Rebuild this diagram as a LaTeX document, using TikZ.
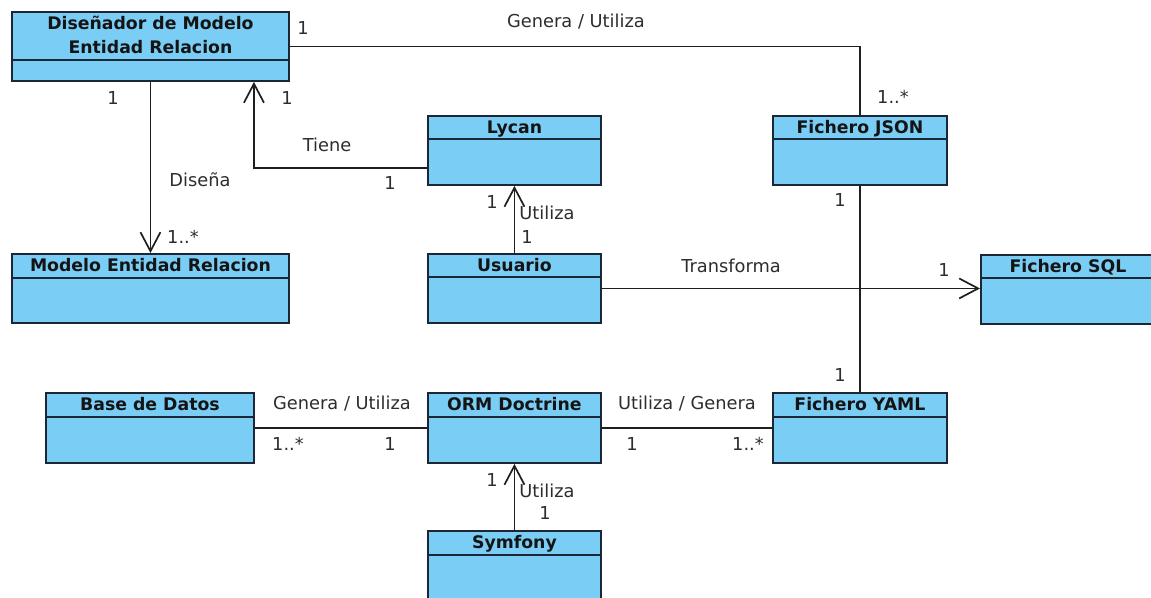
\documentclass[tikz,border=0pt]{standalone}
\usepackage{fontspec}
\setmainfont{DejaVu Sans}
\usetikzlibrary{arrows.meta}
\definecolor{boxfill}{RGB}{122,205,245}
\definecolor{boxline}{RGB}{28,38,52}
\definecolor{txt}{RGB}{45,45,45}
\tikzset{
  classbox/.style={draw=boxline, fill=boxfill, line width=1.9pt, anchor=north west, inner sep=0pt},
  headtxt/.style={font=\fontsize{17.3}{20}\selectfont\bfseries, text=black!92, inner sep=0pt, anchor=base},
  lbl/.style={font=\fontsize{17.8}{20}\selectfont, text=txt, inner sep=0pt},
  conn/.style={line width=1.7pt, draw=black!88},
  nav/.style={conn, -{Straight Barb[length=19pt,width=20pt,line width=1.7pt]}},
}
% name, x, y, width, height, header height
\newcommand{\umlclass}[6]{%
  \node[classbox, minimum width=#4pt, minimum height=#5pt] (#1) at (#2,#3) {};
  \draw[boxline, line width=1.9pt] ([yshift=-#6pt]#1.north west) -- ([yshift=-#6pt]#1.north east);
}
\begin{document}
\begin{tikzpicture}[x=1pt,y=-1pt]
\fill[white] (0,0) rectangle (1151,597);
\useasboundingbox (0,0) rectangle (1151,597);

% classes
\umlclass{dis}{11}{11}{277}{69}{49}
\node[headtxt] (dis-h1) at ([yshift=-18.5pt]dis.north) {Diseñador de Modelo};
\node[headtxt] (dis-h2) at ([yshift=-42.5pt]dis.north) {Entidad Relacion};
\umlclass{mer}{11}{253}{277}{69}{25}
\node[headtxt] (mer-h) at ([yshift=-18.5pt]mer.north) {Modelo Entidad Relacion};
\umlclass{lyc}{427}{115}{173}{69}{24}
\node[headtxt] (lyc-h) at ([yshift=-18pt]lyc.north) {Lycan};
\umlclass{usu}{427}{253}{173}{69}{24}
\node[headtxt] (usu-h) at ([yshift=-18pt]usu.north) {Usuario};
\umlclass{json}{772}{115}{174}{69}{24}
\node[headtxt] (json-h) at ([yshift=-18pt]json.north) {Fichero JSON};
\umlclass{sql}{980}{254}{174}{69}{24}
\node[headtxt] (sql-h) at ([yshift=-18pt]sql.north) {Fichero SQL};
\umlclass{bd}{45}{392}{208}{70}{25}
\node[headtxt] (bd-h) at ([yshift=-18.5pt]bd.north) {Base de Datos};
\umlclass{orm}{427}{392}{173}{70}{25}
\node[headtxt] (orm-h) at ([yshift=-18.5pt]orm.north) {ORM Doctrine};
\umlclass{yaml}{772}{392}{174}{70}{25}
\node[headtxt] (yaml-h) at ([yshift=-18.5pt]yaml.north) {Fichero YAML};
\umlclass{sym}{427}{530}{173}{70}{25}
\node[headtxt] (sym-h) at ([yshift=-18.5pt]sym.north) {Symfony};

% connectors
\draw[conn] (dis.east) -| (json.north);
\draw[nav] (dis.south) -- (mer.north);
\draw[nav] ([yshift=-17.5pt]lyc.west) -| ([xshift=103.5pt]dis.south);
\draw[nav] (usu.north) -- (lyc.south);
\draw[nav] (usu.east) -- (usu.east -| sql.west);
\draw[conn] (json.south) -- (yaml.north);
\draw[conn] (bd.east) -- (orm.west);
\draw[conn] (orm.east) -- (yaml.west);
\draw[nav] (sym.north) -- (orm.south);

% labels
\node[lbl] (a1) at (303,28) {1};
\node[lbl] (a2) at (576,22) {Genera / Utiliza};
\node[lbl] (a3) at (893,97) {1..*};
\node[lbl] (b1) at (113,98) {1};
\node[lbl] (b2) at (200,180) {Diseña};
\node[lbl] (b3) at (183,237) {1..*};
\node[lbl] (c1) at (287,98) {1};
\node[lbl] (c2) at (327,145) {Tiene};
\node[lbl] (c3) at (390,183) {1};
\node[lbl] (d1) at (492,202) {1};
\node[lbl] (d2) at (547,213) {Utiliza};
\node[lbl] (d3) at (527,237) {1};
\node[lbl] (e1) at (731,266) {Transforma};
\node[lbl] (e2) at (944,270) {1};
\node[lbl] (f1) at (840,200) {1};
\node[lbl] (f2) at (840,375) {1};
\node[lbl] (g1) at (342,404) {Genera / Utiliza};
\node[lbl] (g2) at (288,444) {1..*};
\node[lbl] (g3) at (390,444) {1};
\node[lbl] (h1) at (687,404) {Utiliza / Genera};
\node[lbl] (h2) at (632,444) {1};
\node[lbl] (h3) at (748,444) {1..*};
\node[lbl] (i1) at (492,480) {1};
\node[lbl] (i2) at (547,491) {Utiliza};
\node[lbl] (i3) at (545,513) {1};
\end{tikzpicture}
\end{document}
